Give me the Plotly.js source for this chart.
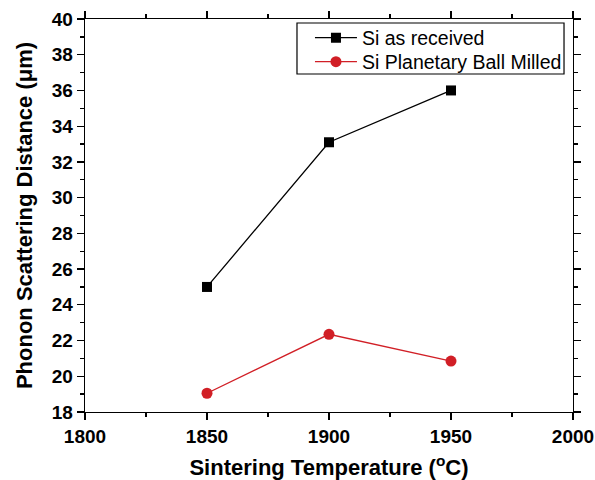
<!DOCTYPE html>
<html>
<head>
<meta charset="utf-8">
<script src="https://cdn.plot.ly/plotly-3.0.1.min.js"></script>
<style>html,body{margin:0;padding:0;background:#fff;}#chart{width:595px;height:480px;}</style>
</head>
<body>
<div id="chart"></div>
<script>
const temperatures = [1850, 1900, 1950];
const asReceived = [25.0, 33.1, 36.0];
const ballMilled = [19.05, 22.35, 20.85];
const seriesNames = ["Si as received", "Si Planetary Ball Milled"];
const xTicks = [1800, 1850, 1900, 1950, 2000];
const yTicks = [18, 20, 22, 24, 26, 28, 30, 32, 34, 36, 38, 40];

const FONT = 'Liberation Sans, Arial, sans-serif';

const traces = [
  {
    x: temperatures, y: asReceived, name: seriesNames[0], legend: 'legend',
    type: 'scatter', mode: 'lines+markers',
    line: {color: '#000000', width: 1.3},
    marker: {symbol: 'square', size: 10, color: '#000000'}
  },
  {
    x: temperatures, y: ballMilled, name: seriesNames[1], legend: 'legend2',
    type: 'scatter', mode: 'lines+markers',
    line: {color: '#d11f26', width: 1.3},
    marker: {symbol: 'circle', size: 11, color: '#d11f26'}
  }
];

const axisCommon = {
  showgrid: false, zeroline: false, showline: true, linecolor: '#000', linewidth: 1.3,
  mirror: 'ticks', ticks: 'outside', ticklen: 7, tickwidth: 1.3, tickcolor: '#000',
  tickfont: {family: FONT, size: 19, color: '#000', weight: 'bold'}
};

const legendCommon = {
  xanchor: 'left', yanchor: 'middle',
  borderwidth: 0, bgcolor: 'rgba(0,0,0,0)',
  font: {family: FONT, size: 19.5, color: '#000'},
  itemwidth: 42
};

const layout = {
  width: 595, height: 480,
  margin: {l: 85, r: 22, t: 19, b: 68},
  paper_bgcolor: '#fff', plot_bgcolor: '#fff',
  showlegend: true,
  legend: Object.assign({}, legendCommon, {x: 0.461, y: 0.9517}),
  legend2: Object.assign({}, legendCommon, {x: 0.461, y: 0.8906}),
  shapes: [{
    type: 'rect', xref: 'paper', yref: 'paper',
    x0: 0.4344, x1: 0.9816, y0: 0.860, y1: 0.9898,
    line: {color: '#000', width: 1.2}, fillcolor: 'rgba(0,0,0,0)', layer: 'above'
  }],
  xaxis: Object.assign({}, axisCommon, {
    range: [1800, 2000], tickmode: 'array', tickvals: xTicks, ticktext: xTicks.map(String),
    minor: {dtick: 25, ticks: 'outside', ticklen: 4, tickwidth: 1.3, tickcolor: '#000'},
    title: {text: 'Sintering Temperature (<sup>o</sup>C)', standoff: 14,
      font: {family: FONT, size: 22, color: '#000', weight: 'bold'}}
  }),
  yaxis: Object.assign({}, axisCommon, {
    range: [18, 40], tickmode: 'array', tickvals: yTicks, ticktext: yTicks.map(String),
    minor: {dtick: 1, ticks: 'outside', ticklen: 4, tickwidth: 1.3, tickcolor: '#000'},
    title: {text: 'Phonon Scattering Distance (μm)', standoff: 13,
      font: {family: FONT, size: 22, color: '#000', weight: 'bold'}}
  })
};

Plotly.newPlot('chart', traces, layout, {displayModeBar: false, staticPlot: true});
</script>
</body>
</html>
